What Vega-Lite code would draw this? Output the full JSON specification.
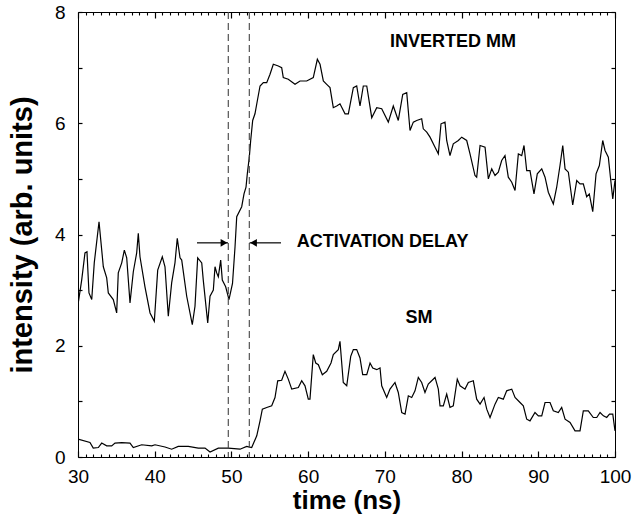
{
"$schema": "https://vega.github.io/schema/vega-lite/v6.json",
"width": 537, "height": 445,
"autosize": {"type": "none"},
"padding": {"left": 78, "top": 12, "right": 17, "bottom": 57},
"config": {"view": {"stroke": "black", "strokeWidth": 1}, "font": "Liberation Sans",
  "axis": {"labelFont": "Liberation Sans", "titleFont": "Liberation Sans", "labelColor": "black", "titleColor": "black"}},
"datasets": {
"curves": [
{"s":"MM","t":30.0,"v":2.74},{"s":"MM","t":30.48,"v":3.18},{"s":"MM","t":30.91,"v":3.67},{"s":"MM","t":31.17,"v":3.69},{"s":"MM","t":31.43,"v":2.95},{"s":"MM","t":31.79,"v":2.83},{"s":"MM","t":32.12,"v":3.49},{"s":"MM","t":32.74,"v":4.23},{"s":"MM","t":33.3,"v":3.42},{"s":"MM","t":33.74,"v":3.22},{"s":"MM","t":33.95,"v":2.95},{"s":"MM","t":34.6,"v":2.83},{"s":"MM","t":35.04,"v":2.59},{"s":"MM","t":35.25,"v":3.31},{"s":"MM","t":35.7,"v":3.49},{"s":"MM","t":36.04,"v":3.72},{"s":"MM","t":36.35,"v":3.58},{"s":"MM","t":36.78,"v":2.77},{"s":"MM","t":37.21,"v":3.33},{"s":"MM","t":37.65,"v":3.67},{"s":"MM","t":37.86,"v":4.02},{"s":"MM","t":38.08,"v":3.6},{"s":"MM","t":38.73,"v":3.06},{"s":"MM","t":39.39,"v":2.59},{"s":"MM","t":39.95,"v":2.44},{"s":"MM","t":40.39,"v":3.36},{"s":"MM","t":40.99,"v":3.6},{"s":"MM","t":41.34,"v":3.42},{"s":"MM","t":41.77,"v":2.53},{"s":"MM","t":42.21,"v":3.13},{"s":"MM","t":42.64,"v":3.49},{"s":"MM","t":42.94,"v":3.93},{"s":"MM","t":43.3,"v":3.58},{"s":"MM","t":43.52,"v":3.54},{"s":"MM","t":44.17,"v":2.89},{"s":"MM","t":44.9,"v":2.38},{"s":"MM","t":45.25,"v":2.71},{"s":"MM","t":45.6,"v":3.58},{"s":"MM","t":46.13,"v":3.49},{"s":"MM","t":46.33,"v":3.18},{"s":"MM","t":46.91,"v":2.41},{"s":"MM","t":47.21,"v":2.89},{"s":"MM","t":47.64,"v":3.0},{"s":"MM","t":47.86,"v":3.42},{"s":"MM","t":48.08,"v":3.31},{"s":"MM","t":48.29,"v":3.24},{"s":"MM","t":48.6,"v":3.54},{"s":"MM","t":48.81,"v":3.18},{"s":"MM","t":49.25,"v":3.06},{"s":"MM","t":49.68,"v":2.83},{"s":"MM","t":50.14,"v":3.12},{"s":"MM","t":50.47,"v":3.78},{"s":"MM","t":50.69,"v":4.32},{"s":"MM","t":51.34,"v":4.5},{"s":"MM","t":51.64,"v":4.73},{"s":"MM","t":51.9,"v":4.85},{"s":"MM","t":52.07,"v":5.09},{"s":"MM","t":52.33,"v":5.39},{"s":"MM","t":52.51,"v":5.69},{"s":"MM","t":52.77,"v":6.05},{"s":"MM","t":53.07,"v":6.17},{"s":"MM","t":53.37,"v":6.4},{"s":"MM","t":53.73,"v":6.67},{"s":"MM","t":54.16,"v":6.73},{"s":"MM","t":54.6,"v":6.73},{"s":"MM","t":55.03,"v":6.88},{"s":"MM","t":55.46,"v":7.06},{"s":"MM","t":56.11,"v":7.03},{"s":"MM","t":56.55,"v":7.0},{"s":"MM","t":56.76,"v":6.82},{"s":"MM","t":57.41,"v":6.79},{"s":"MM","t":58.29,"v":6.7},{"s":"MM","t":58.94,"v":6.76},{"s":"MM","t":59.81,"v":6.76},{"s":"MM","t":60.67,"v":6.82},{"s":"MM","t":61.2,"v":7.15},{"s":"MM","t":61.55,"v":7.06},{"s":"MM","t":61.98,"v":6.76},{"s":"MM","t":62.42,"v":6.7},{"s":"MM","t":62.85,"v":6.64},{"s":"MM","t":63.28,"v":6.28},{"s":"MM","t":63.72,"v":6.31},{"s":"MM","t":64.15,"v":6.35},{"s":"MM","t":64.81,"v":6.17},{"s":"MM","t":65.24,"v":6.17},{"s":"MM","t":65.89,"v":6.64},{"s":"MM","t":66.33,"v":6.67},{"s":"MM","t":66.76,"v":6.31},{"s":"MM","t":67.19,"v":6.67},{"s":"MM","t":67.64,"v":6.67},{"s":"MM","t":68.29,"v":6.1},{"s":"MM","t":68.94,"v":6.28},{"s":"MM","t":69.59,"v":6.26},{"s":"MM","t":70.45,"v":6.02},{"s":"MM","t":71.1,"v":6.31},{"s":"MM","t":71.75,"v":6.05},{"s":"MM","t":72.33,"v":6.52},{"s":"MM","t":72.85,"v":6.55},{"s":"MM","t":73.28,"v":5.87},{"s":"MM","t":73.71,"v":6.02},{"s":"MM","t":74.15,"v":6.05},{"s":"MM","t":74.8,"v":6.08},{"s":"MM","t":75.01,"v":5.9},{"s":"MM","t":75.46,"v":5.84},{"s":"MM","t":75.89,"v":5.75},{"s":"MM","t":76.54,"v":5.57},{"s":"MM","t":76.97,"v":5.45},{"s":"MM","t":77.32,"v":5.99},{"s":"MM","t":77.84,"v":6.02},{"s":"MM","t":78.06,"v":5.69},{"s":"MM","t":78.49,"v":5.42},{"s":"MM","t":78.92,"v":5.63},{"s":"MM","t":79.58,"v":5.69},{"s":"MM","t":80.02,"v":5.75},{"s":"MM","t":80.67,"v":5.69},{"s":"MM","t":81.1,"v":5.45},{"s":"MM","t":81.75,"v":5.06},{"s":"MM","t":81.97,"v":5.03},{"s":"MM","t":82.41,"v":5.6},{"s":"MM","t":83.06,"v":5.57},{"s":"MM","t":83.49,"v":5.0},{"s":"MM","t":83.93,"v":5.18},{"s":"MM","t":84.36,"v":5.06},{"s":"MM","t":84.79,"v":5.12},{"s":"MM","t":85.23,"v":5.33},{"s":"MM","t":85.66,"v":5.42},{"s":"MM","t":86.09,"v":5.03},{"s":"MM","t":86.54,"v":4.94},{"s":"MM","t":86.97,"v":4.79},{"s":"MM","t":87.4,"v":5.45},{"s":"MM","t":87.84,"v":5.42},{"s":"MM","t":88.14,"v":5.6},{"s":"MM","t":88.49,"v":5.15},{"s":"MM","t":88.92,"v":5.15},{"s":"MM","t":89.44,"v":4.73},{"s":"MM","t":89.87,"v":5.09},{"s":"MM","t":90.45,"v":5.18},{"s":"MM","t":90.88,"v":5.03},{"s":"MM","t":91.31,"v":4.76},{"s":"MM","t":91.96,"v":4.55},{"s":"MM","t":92.4,"v":4.85},{"s":"MM","t":92.83,"v":5.24},{"s":"MM","t":93.19,"v":5.6},{"s":"MM","t":93.49,"v":5.18},{"s":"MM","t":93.92,"v":5.12},{"s":"MM","t":94.49,"v":4.53},{"s":"MM","t":95.01,"v":4.97},{"s":"MM","t":95.44,"v":4.91},{"s":"MM","t":95.87,"v":4.91},{"s":"MM","t":96.31,"v":4.68},{"s":"MM","t":96.65,"v":4.73},{"s":"MM","t":97.1,"v":4.41},{"s":"MM","t":97.53,"v":5.09},{"s":"MM","t":97.96,"v":5.24},{"s":"MM","t":98.4,"v":5.69},{"s":"MM","t":98.7,"v":5.51},{"s":"MM","t":99.13,"v":5.39},{"s":"MM","t":99.45,"v":4.97},{"s":"MM","t":99.71,"v":4.64},{"s":"MM","t":100.0,"v":4.97},
{"s":"SM","t":30.0,"v":0.32},{"s":"SM","t":31.56,"v":0.26},{"s":"SM","t":31.99,"v":0.16},{"s":"SM","t":32.65,"v":0.17},{"s":"SM","t":33.09,"v":0.25},{"s":"SM","t":33.74,"v":0.2},{"s":"SM","t":34.39,"v":0.2},{"s":"SM","t":34.82,"v":0.25},{"s":"SM","t":35.7,"v":0.26},{"s":"SM","t":36.78,"v":0.25},{"s":"SM","t":37.21,"v":0.17},{"s":"SM","t":38.3,"v":0.22},{"s":"SM","t":39.61,"v":0.2},{"s":"SM","t":40.04,"v":0.22},{"s":"SM","t":41.34,"v":0.18},{"s":"SM","t":42.21,"v":0.14},{"s":"SM","t":43.07,"v":0.19},{"s":"SM","t":44.38,"v":0.19},{"s":"SM","t":45.68,"v":0.16},{"s":"SM","t":46.56,"v":0.16},{"s":"SM","t":47.21,"v":0.09},{"s":"SM","t":48.29,"v":0.16},{"s":"SM","t":49.59,"v":0.16},{"s":"SM","t":51.12,"v":0.14},{"s":"SM","t":51.99,"v":0.19},{"s":"SM","t":52.64,"v":0.17},{"s":"SM","t":53.3,"v":0.38},{"s":"SM","t":53.73,"v":0.65},{"s":"SM","t":54.03,"v":0.86},{"s":"SM","t":54.6,"v":0.89},{"s":"SM","t":55.25,"v":0.92},{"s":"SM","t":55.68,"v":1.07},{"s":"SM","t":56.03,"v":1.37},{"s":"SM","t":56.55,"v":1.38},{"s":"SM","t":56.98,"v":1.54},{"s":"SM","t":57.41,"v":1.4},{"s":"SM","t":57.86,"v":1.22},{"s":"SM","t":58.72,"v":1.25},{"s":"SM","t":59.16,"v":1.37},{"s":"SM","t":59.59,"v":1.28},{"s":"SM","t":60.02,"v":1.04},{"s":"SM","t":60.24,"v":1.04},{"s":"SM","t":60.67,"v":1.84},{"s":"SM","t":60.99,"v":1.69},{"s":"SM","t":61.33,"v":1.66},{"s":"SM","t":61.85,"v":1.48},{"s":"SM","t":62.42,"v":1.54},{"s":"SM","t":62.98,"v":1.69},{"s":"SM","t":63.28,"v":1.84},{"s":"SM","t":63.93,"v":1.93},{"s":"SM","t":64.15,"v":2.08},{"s":"SM","t":64.58,"v":1.34},{"s":"SM","t":65.03,"v":1.28},{"s":"SM","t":65.55,"v":1.81},{"s":"SM","t":65.89,"v":1.93},{"s":"SM","t":66.33,"v":1.93},{"s":"SM","t":66.76,"v":1.78},{"s":"SM","t":67.11,"v":1.48},{"s":"SM","t":67.64,"v":1.48},{"s":"SM","t":68.07,"v":1.69},{"s":"SM","t":68.42,"v":1.6},{"s":"SM","t":68.94,"v":1.57},{"s":"SM","t":69.37,"v":1.6},{"s":"SM","t":69.59,"v":1.28},{"s":"SM","t":70.24,"v":1.07},{"s":"SM","t":70.67,"v":1.22},{"s":"SM","t":71.32,"v":1.34},{"s":"SM","t":71.75,"v":1.16},{"s":"SM","t":72.2,"v":0.8},{"s":"SM","t":72.63,"v":0.77},{"s":"SM","t":73.06,"v":1.1},{"s":"SM","t":73.5,"v":1.07},{"s":"SM","t":73.93,"v":1.19},{"s":"SM","t":74.36,"v":1.43},{"s":"SM","t":74.8,"v":1.34},{"s":"SM","t":75.23,"v":1.16},{"s":"SM","t":75.66,"v":1.31},{"s":"SM","t":76.54,"v":1.43},{"s":"SM","t":76.97,"v":1.22},{"s":"SM","t":77.19,"v":0.92},{"s":"SM","t":77.62,"v":0.92},{"s":"SM","t":78.06,"v":1.13},{"s":"SM","t":78.49,"v":0.89},{"s":"SM","t":78.92,"v":0.92},{"s":"SM","t":79.44,"v":1.4},{"s":"SM","t":79.8,"v":1.28},{"s":"SM","t":80.45,"v":1.22},{"s":"SM","t":80.88,"v":1.34},{"s":"SM","t":81.53,"v":1.37},{"s":"SM","t":81.97,"v":1.04},{"s":"SM","t":82.41,"v":0.95},{"s":"SM","t":82.93,"v":1.07},{"s":"SM","t":83.28,"v":0.86},{"s":"SM","t":83.71,"v":0.71},{"s":"SM","t":84.36,"v":0.95},{"s":"SM","t":84.79,"v":1.07},{"s":"SM","t":85.44,"v":1.04},{"s":"SM","t":85.88,"v":1.19},{"s":"SM","t":86.54,"v":1.22},{"s":"SM","t":86.97,"v":1.07},{"s":"SM","t":87.62,"v":0.98},{"s":"SM","t":88.05,"v":0.92},{"s":"SM","t":88.49,"v":0.68},{"s":"SM","t":88.92,"v":0.65},{"s":"SM","t":89.57,"v":0.8},{"s":"SM","t":90.01,"v":0.74},{"s":"SM","t":90.45,"v":0.74},{"s":"SM","t":90.88,"v":0.98},{"s":"SM","t":91.53,"v":0.98},{"s":"SM","t":91.96,"v":0.83},{"s":"SM","t":92.61,"v":0.8},{"s":"SM","t":93.05,"v":0.89},{"s":"SM","t":93.49,"v":0.68},{"s":"SM","t":94.14,"v":0.62},{"s":"SM","t":94.79,"v":0.47},{"s":"SM","t":95.44,"v":0.47},{"s":"SM","t":95.87,"v":0.83},{"s":"SM","t":96.52,"v":0.83},{"s":"SM","t":97.17,"v":0.71},{"s":"SM","t":97.62,"v":0.71},{"s":"SM","t":98.05,"v":0.8},{"s":"SM","t":98.49,"v":0.74},{"s":"SM","t":98.92,"v":0.71},{"s":"SM","t":99.28,"v":0.77},{"s":"SM","t":99.71,"v":0.77},{"s":"SM","t":100.0,"v":0.47}
],
"labels": [
{"t": 78.89, "v": 7.46, "txt": "INVERTED MM"},
{"t": 74.45, "v": 2.5, "txt": "SM"}
],
"delay": [{"t": 58.51, "v": 3.87, "txt": "ACTIVATION DELAY"}],
"dashes": [{"t": 49.59}, {"t": 52.33}],
"arrows": [{"t": 45.51, "t2": 49.55, "v": 3.85, "dir": "left"}, {"t": 56.46, "t2": 52.36, "v": 3.85, "dir": "right"}]
},
"resolve": {"axis": {"x": "independent", "y": "independent"}},
"layer": [
{
 "data": {"name": "curves"},
 "mark": {"type": "line", "color": "black", "strokeWidth": 1.2, "clip": true},
 "encoding": {
  "x": {"field": "t", "type": "quantitative", "scale": {"domain": [30, 100], "nice": false, "zero": false},
        "axis": {"orient": "bottom", "values": [30,40,50,60,70,80,90,100], "ticks": false, "domain": false, "grid": false, "labelPadding": 10, "labelFontSize": 19, "title": "time (ns)", "titleFontSize": 26, "titleFontWeight": "bold", "titlePadding": 1, "labelFlush": false}},
  "y": {"field": "v", "type": "quantitative", "scale": {"domain": [0, 8], "nice": false},
        "axis": {"orient": "left", "values": [0,2,4,6,8], "ticks": false, "domain": false, "grid": false, "labelPadding": 13, "labelFontSize": 19, "title": "intensity (arb. units)", "titleFontSize": 29, "titleFontWeight": "bold", "titlePadding": 17, "labelFlush": false}},
  "detail": {"field": "s"}
 }
},
{
 "data": {"name": "labels"},
 "mark": {"type": "text", "fontWeight": "bold", "fontSize": 18, "font": "Liberation Sans", "align": "center", "baseline": "middle", "color": "black"},
 "encoding": {
  "x": {"field": "t", "type": "quantitative", "axis": {"orient": "bottom", "values": [30,40,50,60,70,80,90,100], "ticks": true, "grid": false, "domain": false, "tickColor": "black", "tickWidth": 1.2, "tickSize": 6, "offset": -6, "labels": false, "title": null}},
  "y": {"field": "v", "type": "quantitative", "axis": {"orient": "left", "values": [0,1,2,3,4,5,6,7,8], "ticks": true, "grid": false, "domain": false, "tickColor": "black", "tickWidth": 1.2, "tickSize": 4, "offset": -4, "labels": false, "title": null}},
  "text": {"field": "txt"}
 }
},
{
 "data": {"name": "delay"},
 "mark": {"type": "text", "fontWeight": "bold", "fontSize": 18, "font": "Liberation Sans", "align": "left", "baseline": "middle", "color": "black"},
 "encoding": {
  "x": {"field": "t", "type": "quantitative", "axis": {"orient": "bottom", "values": [31,32,33,34,35,36,37,38,39,41,42,43,44,45,46,47,48,49,51,52,53,54,55,56,57,58,59,61,62,63,64,65,66,67,68,69,71,72,73,74,75,76,77,78,79,81,82,83,84,85,86,87,88,89,91,92,93,94,95,96,97,98,99], "ticks": true, "grid": false, "domain": false, "tickColor": "black", "tickWidth": 1.1, "tickSize": 3, "offset": -3, "labels": false, "title": null}},
  "y": {"field": "v", "type": "quantitative", "axis": {"orient": "right", "values": [0,1,2,3,4,5,6,7,8], "ticks": true, "grid": false, "domain": false, "tickColor": "black", "tickWidth": 1.2, "tickSize": 4, "offset": -4, "labels": false, "title": null}},
  "text": {"field": "txt"}
 }
},
{
 "data": {"name": "dashes"},
 "mark": {"type": "rule", "color": "#444", "strokeWidth": 1.1, "strokeDash": [7, 4]},
 "encoding": {
  "x": {"field": "t", "type": "quantitative", "axis": {"orient": "top", "values": [30,40,50,60,70,80,90,100], "ticks": true, "grid": false, "domain": false, "tickColor": "black", "tickWidth": 1.2, "tickSize": 6, "offset": -6, "labels": false, "title": null}}
 }
},
{
 "data": {"name": "arrows"},
 "mark": {"type": "rule", "color": "black", "strokeWidth": 1.2},
 "encoding": {
  "x": {"field": "t", "type": "quantitative", "axis": {"orient": "top", "values": [31,32,33,34,35,36,37,38,39,41,42,43,44,45,46,47,48,49,51,52,53,54,55,56,57,58,59,61,62,63,64,65,66,67,68,69,71,72,73,74,75,76,77,78,79,81,82,83,84,85,86,87,88,89,91,92,93,94,95,96,97,98,99], "ticks": true, "grid": false, "domain": false, "tickColor": "black", "tickWidth": 1.1, "tickSize": 3, "offset": -3, "labels": false, "title": null}},
  "x2": {"field": "t2"},
  "y": {"field": "v", "type": "quantitative", "axis": null}
 }
},
{
 "data": {"name": "arrows"},
 "transform": [{"filter": "datum.dir === 'left'"}],
 "mark": {"type": "point", "shape": "triangle-right", "filled": true, "color": "black", "size": 60, "opacity": 1, "xOffset": -4},
 "encoding": {
  "x": {"field": "t2", "type": "quantitative", "axis": null},
  "y": {"field": "v", "type": "quantitative", "axis": null}
 }
},
{
 "data": {"name": "arrows"},
 "transform": [{"filter": "datum.dir === 'right'"}],
 "mark": {"type": "point", "shape": "triangle-left", "filled": true, "color": "black", "size": 60, "opacity": 1, "xOffset": 4},
 "encoding": {
  "x": {"field": "t2", "type": "quantitative", "axis": null},
  "y": {"field": "v", "type": "quantitative", "axis": null}
 }
}
]
}
